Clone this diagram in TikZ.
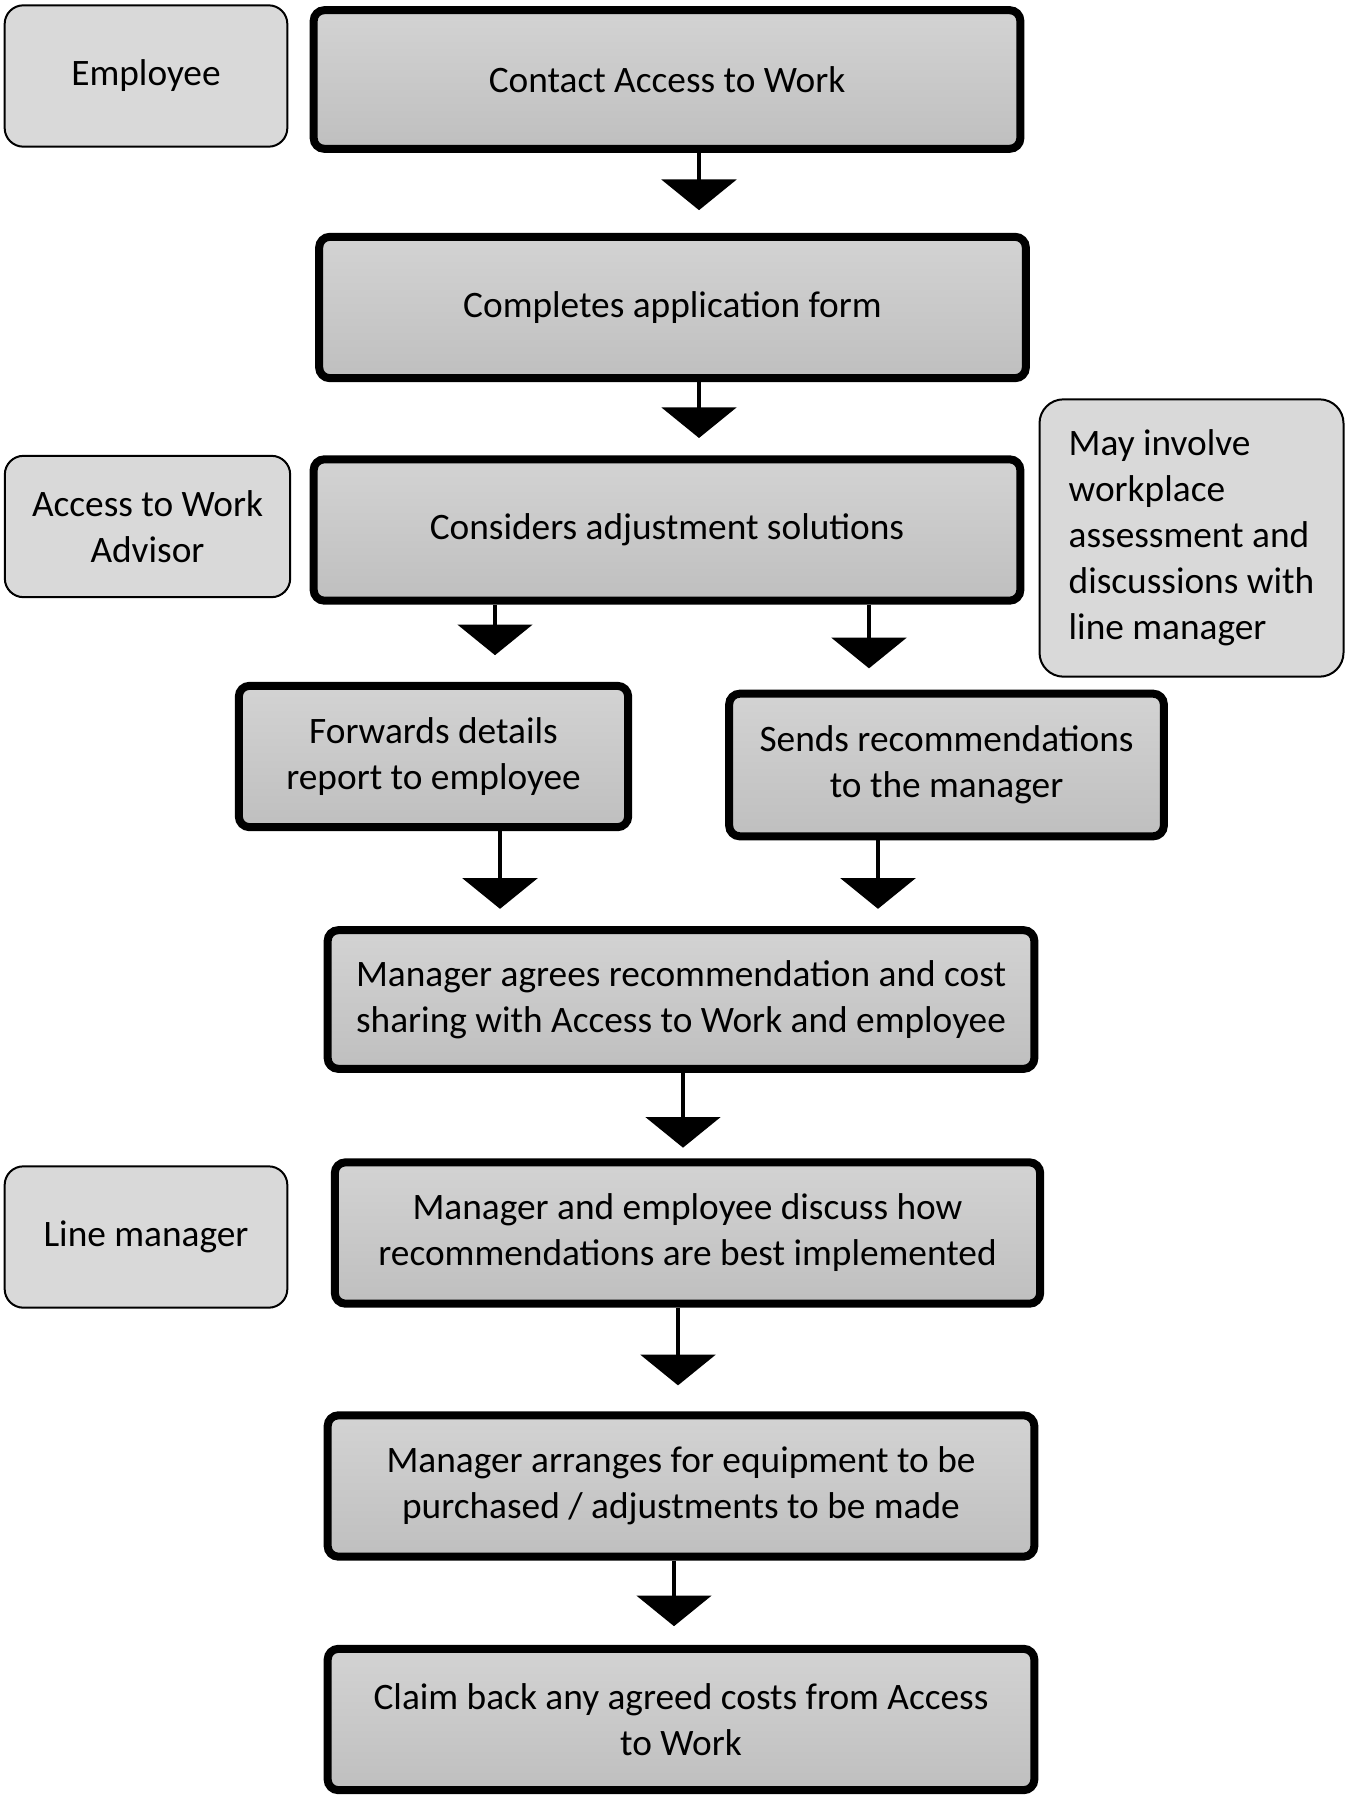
\documentclass[tikz,border=0pt]{standalone}
\usepackage{fontspec}
\setmainfont{Carlito}
\usetikzlibrary{arrows.meta}

\definecolor{boxtop}{HTML}{D3D3D3}
\definecolor{boxbot}{HTML}{BFBFBF}
\definecolor{rolefill}{HTML}{D9D9D9}

\tikzset{every picture/.style={line width=0.75pt},
  stepbox/.style={draw, line width=6pt, rounded corners=8pt, top color=boxtop, bottom color=boxbot, align=center, font=\fontsize{28}{34.5}\selectfont},
  rolebox/.style={draw, line width=1.5pt, rounded corners=14pt, fill=rolefill, align=center, font=\fontsize{28}{34.5}\selectfont},
  flow/.style={line width=3pt, -{Triangle[width=56pt,length=23pt]}}}

\begin{document}
\begin{tikzpicture}[x=0.75pt,y=0.75pt,yscale=-1,xscale=1]
        \useasboundingbox (0,0) rectangle (1346,1798);

        %Shape: Rounded Rect [id:employee]
        \node [rolebox, minimum width=212pt, minimum height=106pt] (employee) at (146,76) {Employee};
        %Shape: Rounded Rect [id:advisor]
        \node [rolebox, minimum width=214pt, minimum height=106pt] (advisor) at (147.5,526.5) {Access to Work\\Advisor};
        %Shape: Rounded Rect [id:linemgr]
        \node [rolebox, minimum width=212pt, minimum height=106pt] (linemgr) at (146,1237) {Line manager};
        %Shape: Rounded Rect [id:involve]
        \node [rolebox, rounded corners=18pt, minimum width=228pt, minimum height=208pt, align=left] (involve) at (1191.5,538) {May involve\\workplace\\assessment and\\discussions with\\line manager};

        %Shape: Rounded Rect [id:contact]
        \node [stepbox, minimum width=530pt, minimum height=104pt] (contact) at (667,79.5) {Contact Access to Work};
        %Shape: Rounded Rect [id:completes]
        \node [stepbox, minimum width=530pt, minimum height=106pt] (completes) at (672.5,307.5) {Completes application form};
        %Shape: Rounded Rect [id:considers]
        \node [stepbox, minimum width=530pt, minimum height=106pt] (considers) at (667,530) {Considers adjustment solutions};
        %Shape: Rounded Rect [id:forwards]
        \node [stepbox, minimum width=292pt, minimum height=106pt] (forwards) at (433.5,756.5) {Forwards details\\report to employee};
        %Shape: Rounded Rect [id:sends]
        \node [stepbox, minimum width=326pt, minimum height=107pt] (sends) at (946.5,765) {Sends recommendations\\to the manager};
        %Shape: Rounded Rect [id:agrees]
        \node [stepbox, minimum width=530pt, minimum height=104pt] (agrees) at (681,999.5) {Manager agrees recommendation and cost\\sharing with Access to Work and employee};
        %Shape: Rounded Rect [id:discuss]
        \node [stepbox, minimum width=529pt, minimum height=106pt] (discuss) at (687.5,1233) {Manager and employee discuss how\\recommendations are best implemented};
        %Shape: Rounded Rect [id:arranges]
        \node [stepbox, minimum width=530pt, minimum height=106pt] (arranges) at (681,1486) {Manager arranges for equipment to be\\purchased / adjustments to be made};
        %Shape: Rounded Rect [id:claim]
        \node [stepbox, minimum width=530pt, minimum height=106pt] (claim) at (681,1719.5) {Claim back any agreed costs from Access\\to Work};

        %Straight Lines
        \draw [flow, shorten >=17pt] (contact.south -| 699,0) -- (completes.north -| 699,0);
        \draw [flow, shorten >=13pt] (completes.south -| 699,0) -- (considers.north -| 699,0);
        \draw [flow, shorten >=20pt] (considers.south -| 495,0) -- (forwards.north -| 495,0);
        \draw [flow, shorten >=16pt] (considers.south -| 869,0) -- (sends.north -| 869,0);
        \draw [flow, shorten >=13pt] (forwards.south -| 500,0) -- (agrees.north -| 500,0);
        \draw [flow, shorten >=13pt] (sends.south -| 878,0) -- (agrees.north -| 878,0);
        \draw [flow, shorten >=8pt] (agrees.south -| 683,0) -- (discuss.north -| 683,0);
        \draw [flow, shorten >=19.5pt] (discuss.south -| 678,0) -- (arranges.north -| 678,0);
        \draw [flow, shorten >=14pt] (arranges.south -| 674,0) -- (claim.north -| 674,0);
\end{tikzpicture}
\end{document}
